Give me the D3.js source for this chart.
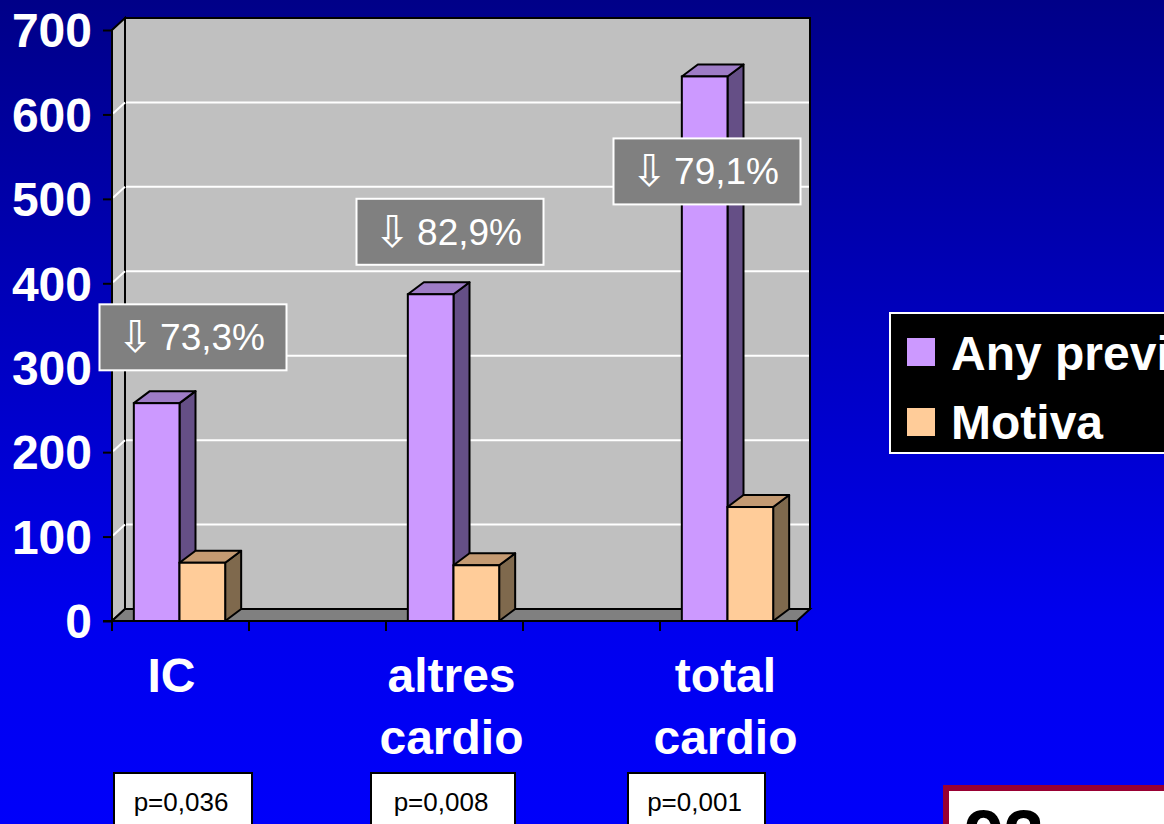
<!DOCTYPE html>
<html>
<head>
<meta charset="utf-8">
<script src="https://cdn.jsdelivr.net/npm/d3@7"></script>
<style>
  html, body { margin: 0; padding: 0; overflow: hidden; }
  svg { display: block; }
  text { font-family: "Liberation Sans", Arial, Helvetica, sans-serif; }
</style>
</head>
<body>
<svg id="chart" width="1164" height="824"></svg>
<script>
// ---------------- DATA ----------------
const categories = ["IC", "gap1", "altres cardio", "gap2", "total cardio"];
const categoryLabels = [["IC"], [], ["altres", "cardio"], [], ["total", "cardio"]];
const seriesNames = ["Any previous", "Motiva"];
const anyPrevious = [258, null, 387, null, 645];
const motiva = [69, null, 66, null, 135];
const reductionLabels = ["73,3%", null, "82,9%", null, "79,1%"];
const pValues = ["p=0,036", null, "p=0,008", null, "p=0,001"];
const yTicks = [0, 100, 200, 300, 400, 500, 600, 700];

// ---------------- LAYOUT ----------------
const W = 1164, H = 824;
const colors = {
  front: ["#CC99FF", "#FFCC99"],
  top:   ["#9E7CC6", "#C49A72"],
  side:  ["#654F86", "#7F694D"]
};
const wallDepth = { dx: 13, dy: -12 };
const barDepth = { dx: 16, dy: -12 };
const catLabelDx = [-8, 0, -2, 0, -2];
// annotation placement (value units / offsets from category centre)
const reductionBoxLayout = [{ dx: 12.5, v: 336 }, null, { dx: -4.5, v: 461 }, null, { dx: -21.5, v: 532.5 }];
const pBoxLayout = [{ x: 114, w: 138 }, null, { x: 371, w: 144 }, null, { x: 628, w: 137 }];

const svg = d3.select("#chart");

// background gradient
const defs = svg.append("defs");
const grad = defs.append("linearGradient").attr("id", "bg").attr("x1", 0).attr("y1", 0).attr("x2", 0).attr("y2", 1);
grad.append("stop").attr("offset", "0").attr("stop-color", "#000088");
grad.append("stop").attr("offset", "0.75").attr("stop-color", "#0000EE");
grad.append("stop").attr("offset", "1").attr("stop-color", "#0000FA");
svg.append("rect").attr("width", W).attr("height", H).attr("fill", "url(#bg)");

// scales
const x = d3.scaleBand().domain(categories).range([112, 797]).padding(0);
const y = d3.scaleLinear().domain([0, 700]).range([621, 30]);
const inner = d3.scaleBand().domain(seriesNames)
  .range([x.bandwidth() / 6 - 1, x.bandwidth() * 5 / 6 - 1]).padding(0);

const x0 = x.range()[0], x1 = x.range()[1];
const yb = y(0), yt = y(700);
const dx = wallDepth.dx, dy = wallDepth.dy;

const g = svg.append("g");

// side wall (left)
g.append("polygon")
  .attr("points", [[x0, yb], [x0, yt], [x0 + dx, yt + dy], [x0 + dx, yb + dy]].join(" "))
  .attr("fill", "#C0C0C0").attr("stroke", "#000").attr("stroke-width", 2);
// back wall
g.append("rect")
  .attr("x", x0 + dx).attr("y", yt + dy).attr("width", x1 - x0).attr("height", yb - yt)
  .attr("fill", "#C0C0C0").attr("stroke", "#000").attr("stroke-width", 2);

// gridlines
const gridVals = yTicks.filter(v => v > 0 && v < 700);
g.selectAll("line.gridBack").data(gridVals).enter().append("line")
  .attr("x1", x0 + dx + 1).attr("x2", x1 + dx - 1)
  .attr("y1", d => y(d) + dy).attr("y2", d => y(d) + dy)
  .attr("stroke", "#fff").attr("stroke-width", 2);
g.selectAll("line.gridSide").data(gridVals).enter().append("line")
  .attr("x1", x0 + 1).attr("x2", x0 + dx)
  .attr("y1", d => y(d) - 1).attr("y2", d => y(d) + dy)
  .attr("stroke", "#fff").attr("stroke-width", 2);

// floor
g.append("polygon")
  .attr("points", [[x0, yb], [x1, yb], [x1 + dx, yb + dy], [x0 + dx, yb + dy]].join(" "))
  .attr("fill", "#808080").attr("stroke", "#000").attr("stroke-width", 2);

// front y axis line
g.append("line").attr("x1", x0).attr("x2", x0).attr("y1", yt).attr("y2", yb)
  .attr("stroke", "#000").attr("stroke-width", 2);

// y axis (d3 axis)
const yAxis = d3.axisLeft(y).tickValues(yTicks).tickSize(9).tickPadding(11).tickFormat(d3.format("d"));
const yAxisG = svg.append("g").attr("transform", `translate(${x0},0)`).call(yAxis);
yAxisG.select(".domain").remove();
yAxisG.selectAll(".tick line").attr("stroke", "#000").attr("stroke-width", 2);
yAxisG.selectAll(".tick text")
  .attr("fill", "#fff").attr("font-size", 48).attr("font-weight", "bold")
  .attr("font-family", "'Liberation Sans', Arial, sans-serif")
  .attr("dy", "0.35em");

// x axis (ticks at category boundaries)
const bounds = categories.map(c => x(c)).concat([x1]);
const xAxisG = svg.append("g");
xAxisG.append("line").attr("x1", x0 - 9).attr("x2", x1).attr("y1", yb).attr("y2", yb)
  .attr("stroke", "#000").attr("stroke-width", 2);
xAxisG.selectAll("line.tk").data(bounds).enter().append("line")
  .attr("x1", d => d).attr("x2", d => d).attr("y1", yb).attr("y2", yb + 10)
  .attr("stroke", "#000").attr("stroke-width", 2);

// category labels
categories.forEach((c, i) => {
  const lines = categoryLabels[i];
  lines.forEach((ln, j) => {
    svg.append("text")
      .attr("x", x(c) + x.bandwidth() / 2 - 1 + catLabelDx[i])
      .attr("y", 692 + j * 62)
      .attr("text-anchor", "middle")
      .attr("fill", "#fff").attr("font-size", 48).attr("font-weight", "bold")
      .text(ln);
  });
});

// 3D bars
const seriesValues = [anyPrevious, motiva];
const bdx = barDepth.dx, bdy = barDepth.dy;
categories.forEach((c, i) => {
  seriesNames.forEach((s, k) => {
    const v = seriesValues[k][i];
    if (v == null) return;
    const bx = x(c) + inner(s), bw = inner.bandwidth();
    const top = y(v), bot = y(0);
    const bg = g.append("g");
    bg.append("polygon")
      .attr("points", [[bx + bw, top], [bx + bw + bdx, top + bdy], [bx + bw + bdx, bot + bdy], [bx + bw, bot]].join(" "))
      .attr("fill", colors.side[k]).attr("stroke", "#000").attr("stroke-width", 2).attr("stroke-linejoin", "round");
    bg.append("polygon")
      .attr("points", [[bx, top], [bx + bdx, top + bdy], [bx + bw + bdx, top + bdy], [bx + bw, top]].join(" "))
      .attr("fill", colors.top[k]).attr("stroke", "#000").attr("stroke-width", 2).attr("stroke-linejoin", "round");
    bg.append("rect")
      .attr("x", bx).attr("y", top).attr("width", bw).attr("height", bot - top)
      .attr("fill", colors.front[k]).attr("stroke", "#000").attr("stroke-width", 2);
  });
});

// reduction boxes
const boxW = 187, boxH = 66;
categories.forEach((c, i) => {
  const lbl = reductionLabels[i];
  if (!lbl) return;
  const L = reductionBoxLayout[i];
  const cx = x(c) + x.bandwidth() / 2 + L.dx;
  const cy = y(L.v);
  svg.append("rect")
    .attr("x", cx - boxW / 2).attr("y", cy - boxH / 2).attr("width", boxW).attr("height", boxH)
    .attr("fill", "#808080").attr("stroke", "#fff").attr("stroke-width", 2);
  const t = svg.append("text")
    .attr("x", cx - 2).attr("y", cy + 13)
    .attr("text-anchor", "middle").attr("fill", "#fff").attr("font-size", 37);
  t.append("tspan").attr("font-family", "'DejaVu Sans', sans-serif").attr("font-size", 44)
    .attr("dy", 2).text("\u21E9");
  t.append("tspan").attr("dy", -2).attr("dx", -4).text(" " + lbl);
});

// legend
const lg = svg.append("g");
lg.append("rect").attr("x", 890).attr("y", 313).attr("width", 300).attr("height", 140)
  .attr("fill", "#000").attr("stroke", "#fff").attr("stroke-width", 2);
seriesNames.forEach((s, k) => {
  lg.append("rect").attr("x", 907).attr("y", 338 + k * 70).attr("width", 28).attr("height", 28)
    .attr("fill", colors.front[k]);
  lg.append("text").attr("x", 951).attr("y", 370 + k * 69)
    .attr("fill", "#fff").attr("font-size", 48).attr("font-weight", "bold").text(s);
});

// p-value boxes
categories.forEach((c, i) => {
  const p = pValues[i];
  if (!p) return;
  const L = pBoxLayout[i];
  svg.append("rect").attr("x", L.x).attr("y", 773).attr("width", L.w).attr("height", 80)
    .attr("fill", "#fff").attr("stroke", "#000").attr("stroke-width", 2);
  svg.append("text").attr("x", L.x + L.w / 2 - 2).attr("y", 811)
    .attr("text-anchor", "middle").attr("fill", "#000").attr("font-size", 26).text(p);
});

// bottom-right box (partially visible)
svg.append("rect").attr("x", 946).attr("y", 788).attr("width", 260).attr("height", 100)
  .attr("fill", "#fff").attr("stroke", "#990033").attr("stroke-width", 6);
svg.append("text").attr("x", 964).attr("y", 861)
  .attr("fill", "#000").attr("font-size", 72).attr("font-weight", "bold").text("93");
</script>
</body>
</html>
